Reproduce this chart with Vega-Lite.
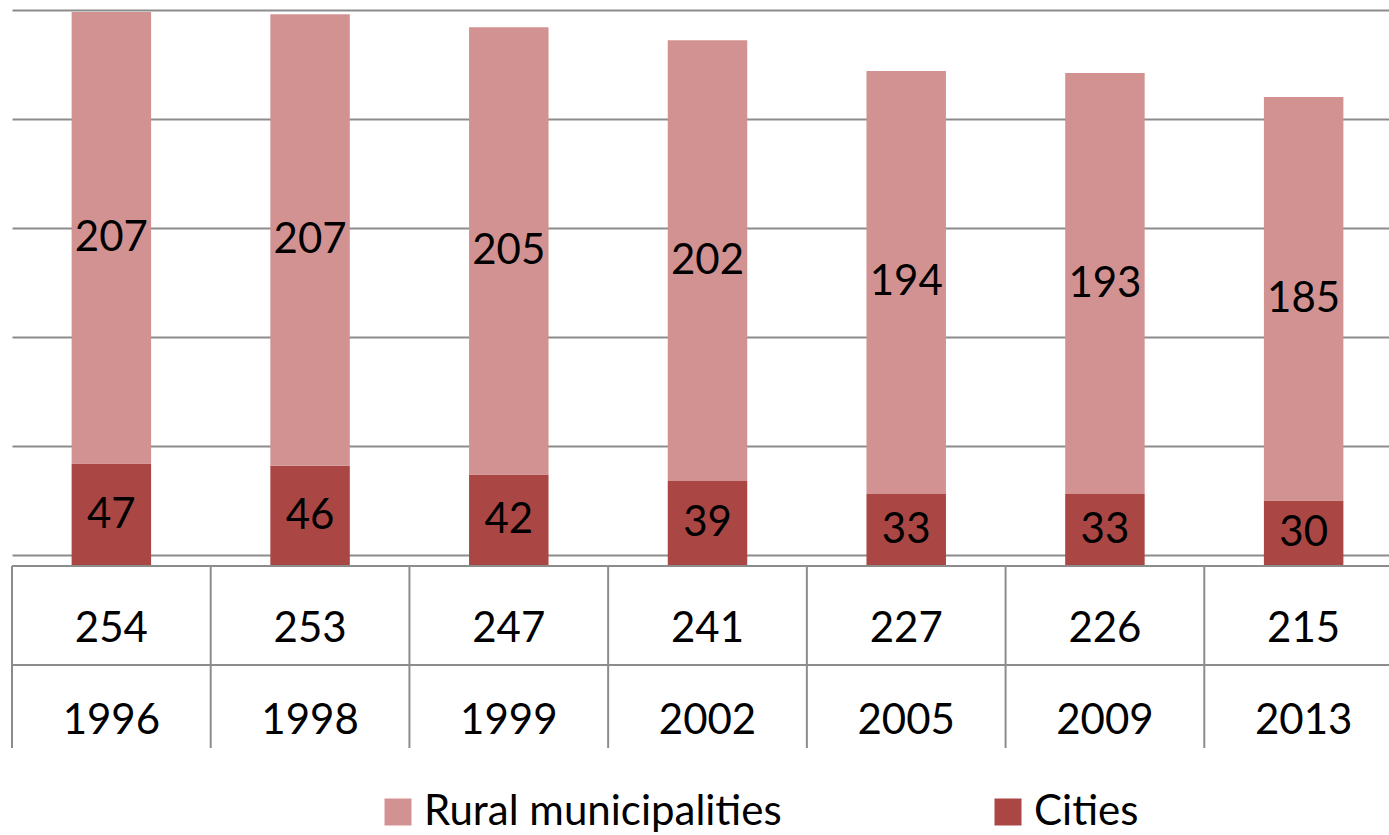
{
  "$schema": "https://vega.github.io/schema/vega-lite/v6.json",
  "padding": {"left": 11, "top": 0, "right": 0, "bottom": 0},
  "background": "white",
  "bounds": "flush",
  "spacing": 0,
  "config": {"font": "Lato", "view": {"stroke": null}},
  "datasets": {
    "counts": [
      {"Year": "1996", "Type": "Cities", "Count": 47},
      {"Year": "1996", "Type": "Rural municipalities", "Count": 207},
      {"Year": "1998", "Type": "Cities", "Count": 46},
      {"Year": "1998", "Type": "Rural municipalities", "Count": 207},
      {"Year": "1999", "Type": "Cities", "Count": 42},
      {"Year": "1999", "Type": "Rural municipalities", "Count": 205},
      {"Year": "2002", "Type": "Cities", "Count": 39},
      {"Year": "2002", "Type": "Rural municipalities", "Count": 202},
      {"Year": "2005", "Type": "Cities", "Count": 33},
      {"Year": "2005", "Type": "Rural municipalities", "Count": 194},
      {"Year": "2009", "Type": "Cities", "Count": 33},
      {"Year": "2009", "Type": "Rural municipalities", "Count": 193},
      {"Year": "2013", "Type": "Cities", "Count": 30},
      {"Year": "2013", "Type": "Rural municipalities", "Count": 185}
    ],
    "totals": [
      {"Year": "1996", "Total": 254},
      {"Year": "1998", "Total": 253},
      {"Year": "1999", "Total": 247},
      {"Year": "2002", "Total": 241},
      {"Year": "2005", "Total": 227},
      {"Year": "2009", "Total": 226},
      {"Year": "2013", "Total": 215}
    ]
  },
  "vconcat": [
    {
      "width": 1378,
      "height": 566,
      "data": {"name": "counts"},
      "layer": [
        {
          "mark": {"type": "bar", "width": {"band": 0.4}},
          "encoding": {
            "x": {"field": "Year", "type": "nominal", "sort": null,
                  "scale": {"type": "band", "range": [0, 1391], "paddingInner": 0, "paddingOuter": 0}, "axis": null},
            "y": {"field": "Count", "type": "quantitative", "stack": "zero",
                  "scale": {"domain": [0, 259.5], "nice": false},
                  "axis": {"values": [5, 55, 105, 155, 205, 255], "grid": true, "gridColor": "#8c8c8c", "gridWidth": 2,
                           "labels": false, "ticks": false, "domain": false, "title": null}},
            "color": {"field": "Type", "type": "nominal",
                      "scale": {"domain": ["Rural municipalities", "Cities"], "range": ["#D39292", "#AA4744"]},
                      "legend": {"orient": "none", "legendX": 365, "legendY": 791, "direction": "horizontal", "title": null,
                                 "symbolType": "square", "symbolSize": 729, "symbolStrokeWidth": 0, "symbolOpacity": 1,
                                 "labelFontSize": 42, "labelFont": "Lato", "labelColor": "#000000", "labelOffset": 5,
                                 "columnPadding": 205, "labelLimit": 600}},
            "order": {"field": "Type", "sort": "ascending"}
          }
        },
        {
          "transform": [
            {"stack": "Count", "groupby": ["Year"], "sort": [{"field": "Type", "order": "ascending"}], "as": ["y0", "y1"]},
            {"calculate": "(datum.y0 + datum.y1) / 2", "as": "mid"}
          ],
          "mark": {"type": "text", "fontSize": 42, "font": "Lato", "color": "#000000", "baseline": "middle", "align": "center"},
          "encoding": {
            "x": {"field": "Year", "type": "nominal", "sort": null},
            "y": {"field": "mid", "type": "quantitative"},
            "text": {"field": "Count", "type": "quantitative"}
          }
        }
      ]
    },
    {
      "width": 1378,
      "height": 182,
      "data": {"name": "totals"},
      "layer": [
        {
          "mark": {"type": "rule", "color": "#8c8c8c", "strokeWidth": 2},
          "encoding": {
            "x": {"field": "Year", "type": "nominal", "sort": null, "bandPosition": 0,
                  "scale": {"type": "band", "range": [0, 1391], "paddingInner": 0, "paddingOuter": 0}, "axis": null}
          }
        },
        {
          "mark": {"type": "rule", "color": "#8c8c8c", "strokeWidth": 2},
          "encoding": {
            "y": {"datum": "Total", "type": "nominal", "bandPosition": 0,
                  "scale": {"type": "band", "domain": ["Total", "Year"], "range": [0, 198], "paddingInner": 0, "paddingOuter": 0}, "axis": null}
          }
        },
        {
          "mark": {"type": "rule", "color": "#8c8c8c", "strokeWidth": 2},
          "encoding": {
            "y": {"datum": "Year", "type": "nominal", "bandPosition": 0}
          }
        },
        {
          "mark": {"type": "text", "fontSize": 42, "font": "Lato", "color": "#000000", "baseline": "middle", "align": "center", "dy": 13},
          "encoding": {
            "x": {"field": "Year", "type": "nominal", "sort": null, "bandPosition": 0.5},
            "y": {"datum": "Total", "type": "nominal", "bandPosition": 0.5},
            "text": {"field": "Total", "type": "quantitative"}
          }
        },
        {
          "mark": {"type": "text", "fontSize": 42, "font": "Lato", "color": "#000000", "baseline": "middle", "align": "center", "dy": 6},
          "encoding": {
            "x": {"field": "Year", "type": "nominal", "sort": null, "bandPosition": 0.5},
            "y": {"datum": "Year", "type": "nominal", "bandPosition": 0.5},
            "text": {"field": "Year", "type": "nominal"}
          }
        }
      ]
    }
  ]
}
